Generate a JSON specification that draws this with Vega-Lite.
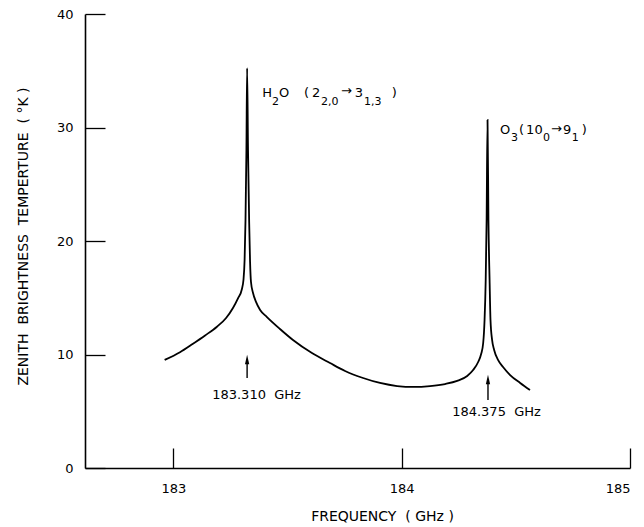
{
  "$schema": "https://vega.github.io/schema/vega-lite/v6.json",
  "width": 545,
  "height": 454,
  "autosize": {"type": "none"},
  "padding": {"left": 85, "top": 14, "right": 14, "bottom": 59},
  "background": "white",
  "config": {
    "view": {"stroke": null},
    "font": "DejaVu Sans",
    "axis": {
      "domainColor": "black",
      "domainWidth": 1.6,
      "tickColor": "black",
      "tickWidth": 1.3,
      "grid": false,
      "labelColor": "black",
      "titleColor": "black",
      "labelFont": "DejaVu Sans",
      "titleFont": "DejaVu Sans",
      "labelFontSize": 13,
      "titleFontSize": 14,
      "titleFontWeight": "normal"
    }
  },
  "datasets": {
    "curve": [
      {"f": 182.962, "v": 9.52},
      {"f": 183.029, "v": 10.2},
      {"f": 183.086, "v": 10.95},
      {"f": 183.139, "v": 11.68},
      {"f": 183.191, "v": 12.45},
      {"f": 183.231, "v": 13.22},
      {"f": 183.261, "v": 14.1},
      {"f": 183.283, "v": 14.95},
      {"f": 183.3, "v": 15.75},
      {"f": 183.307, "v": 16.56},
      {"f": 183.312, "v": 18.33},
      {"f": 183.316, "v": 21.85},
      {"f": 183.32, "v": 28.02},
      {"f": 183.323, "v": 35.24},
      {"f": 183.327, "v": 28.02},
      {"f": 183.332, "v": 21.67},
      {"f": 183.336, "v": 18.15},
      {"f": 183.34, "v": 16.39},
      {"f": 183.349, "v": 15.42},
      {"f": 183.362, "v": 14.63},
      {"f": 183.38, "v": 13.92},
      {"f": 183.41, "v": 13.3},
      {"f": 183.467, "v": 12.25},
      {"f": 183.524, "v": 11.28},
      {"f": 183.607, "v": 10.13},
      {"f": 183.686, "v": 9.25},
      {"f": 183.752, "v": 8.55},
      {"f": 183.831, "v": 7.93},
      {"f": 183.905, "v": 7.49},
      {"f": 183.98, "v": 7.22},
      {"f": 184.054, "v": 7.14},
      {"f": 184.124, "v": 7.22},
      {"f": 184.19, "v": 7.4},
      {"f": 184.243, "v": 7.67},
      {"f": 184.287, "v": 8.11},
      {"f": 184.313, "v": 8.63},
      {"f": 184.335, "v": 9.34},
      {"f": 184.348, "v": 10.04},
      {"f": 184.357, "v": 11.01},
      {"f": 184.363, "v": 13.04},
      {"f": 184.368, "v": 16.56},
      {"f": 184.372, "v": 21.85},
      {"f": 184.376, "v": 30.66},
      {"f": 184.38, "v": 21.85},
      {"f": 184.385, "v": 16.56},
      {"f": 184.389, "v": 13.04},
      {"f": 184.396, "v": 11.28},
      {"f": 184.405, "v": 10.4},
      {"f": 184.422, "v": 9.52},
      {"f": 184.444, "v": 8.9},
      {"f": 184.475, "v": 8.19},
      {"f": 184.519, "v": 7.49},
      {"f": 184.562, "v": 6.87}
    ],
    "arrows": [
      {"f": 183.323, "lo": 7.93, "hi": 9.4},
      {"f": 184.378, "lo": 5.99, "hi": 7.6}
    ],
    "heads": [
      {"f": 183.323, "v": 9.55},
      {"f": 184.378, "v": 7.8}
    ],
    "mainText": [
      {"t": "H", "f": 183.389, "v": 33.04},
      {"t": "O", "f": 183.463, "v": 33.04},
      {"t": "(", "f": 183.572, "v": 33.04},
      {"t": "2", "f": 183.607, "v": 33.04},
      {"t": "→", "f": 183.734, "v": 33.2},
      {"t": "3", "f": 183.795, "v": 33.04},
      {"t": ")", "f": 183.957, "v": 33.04},
      {"t": "O", "f": 184.431, "v": 29.8},
      {"t": "(", "f": 184.514, "v": 29.8},
      {"t": "10", "f": 184.545, "v": 29.8},
      {"t": "→", "f": 184.654, "v": 29.9},
      {"t": "9", "f": 184.707, "v": 29.8},
      {"t": ")", "f": 184.789, "v": 29.8}
    ],
    "subText": [
      {"t": "2", "f": 183.4323, "v": 32.25},
      {"t": "2,0", "f": 183.647, "v": 32.25},
      {"t": "1,3", "f": 183.835, "v": 32.25},
      {"t": "3", "f": 184.479, "v": 29.1},
      {"t": "0", "f": 184.619, "v": 29.1},
      {"t": "1", "f": 184.745, "v": 29.1}
    ],
    "freqText": [
      {"t": "183.310\u00a0\u00a0GHz", "f": 183.17, "v": 6.43},
      {"t": "184.375\u00a0\u00a0GHz", "f": 184.221, "v": 4.93}
    ]
  },
  "layer": [
    {
      "data": {"name": "curve"},
      "mark": {"type": "line", "color": "black", "strokeWidth": 1.8, "interpolate": "monotone"},
      "encoding": {
        "x": {
          "field": "f", "type": "quantitative",
          "scale": {"domain": [182.613, 185], "nice": false, "zero": false},
          "axis": {
            "values": [183, 184, 185],
            "tickSize": -20,
            "labelPadding": 34,
            "title": "FREQUENCY\u00a0\u00a0(\u00a0GHz\u00a0)",
            "titleX": 297,
            "titlePadding": 14,
            "format": "d"
          }
        },
        "y": {
          "field": "v", "type": "quantitative",
          "scale": {"domain": [0, 40], "nice": false},
          "axis": {
            "values": [0, 10, 20, 30, 40],
            "tickSize": -20,
            "labelPadding": 32,
            "title": "ZENITH\u00a0\u00a0BRIGHTNESS\u00a0\u00a0TEMPERTURE\u00a0\u00a0(\u00a0°K\u00a0)",
            "titleY": 222,
            "titlePadding": 26
          }
        }
      }
    },
    {
      "data": {"name": "arrows"},
      "mark": {"type": "rule", "color": "black", "strokeWidth": 1.4},
      "encoding": {
        "x": {"field": "f", "type": "quantitative"},
        "y": {"field": "lo", "type": "quantitative"},
        "y2": {"field": "hi"}
      }
    },
    {
      "data": {"name": "heads"},
      "mark": {"type": "point", "shape": "M-0.45,1L0,-1L0.45,1Z", "filled": true, "color": "black", "size": 90, "opacity": 1},
      "encoding": {
        "x": {"field": "f", "type": "quantitative"},
        "y": {"field": "v", "type": "quantitative"}
      }
    },
    {
      "data": {"name": "mainText"},
      "mark": {"type": "text", "align": "left", "baseline": "middle", "font": "DejaVu Sans", "fontSize": 13, "color": "black"},
      "encoding": {
        "x": {"field": "f", "type": "quantitative"},
        "y": {"field": "v", "type": "quantitative"},
        "text": {"field": "t"}
      }
    },
    {
      "data": {"name": "subText"},
      "mark": {"type": "text", "align": "left", "baseline": "middle", "font": "DejaVu Sans", "fontSize": 11, "color": "black"},
      "encoding": {
        "x": {"field": "f", "type": "quantitative"},
        "y": {"field": "v", "type": "quantitative"},
        "text": {"field": "t"}
      }
    },
    {
      "data": {"name": "freqText"},
      "mark": {"type": "text", "align": "left", "baseline": "middle", "font": "DejaVu Sans", "fontSize": 13, "color": "black"},
      "encoding": {
        "x": {"field": "f", "type": "quantitative"},
        "y": {"field": "v", "type": "quantitative"},
        "text": {"field": "t"}
      }
    }
  ]
}
